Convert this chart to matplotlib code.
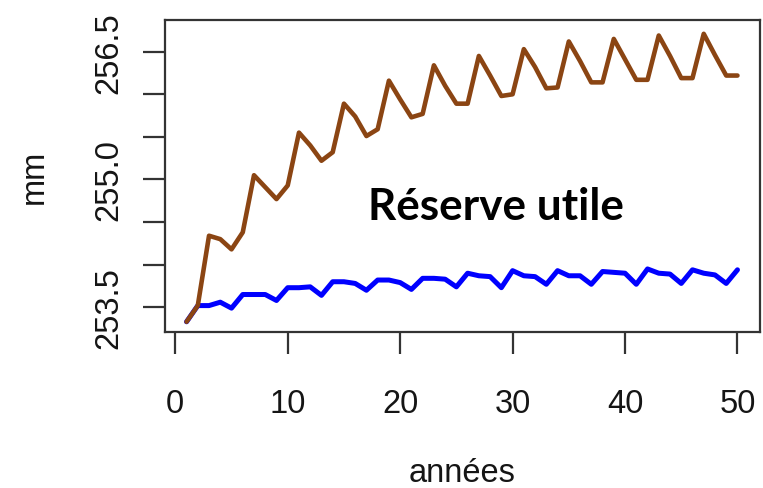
import matplotlib
matplotlib.use("Agg")
import matplotlib.pyplot as plt

# ---- data ----
annees = list(range(1, 51))
reserve_sol = [253.33, 253.52, 254.34, 254.30, 254.18, 254.38, 255.05, 254.91, 254.77, 254.93,
               255.55, 255.40, 255.22, 255.32, 255.89, 255.74, 255.51, 255.59, 256.16, 255.94,
               255.73, 255.77, 256.34, 256.10, 255.89, 255.89, 256.45, 256.22, 255.98, 256.00,
               256.53, 256.32, 256.07, 256.08, 256.62, 256.39, 256.14, 256.14, 256.65, 256.41,
               256.17, 256.17, 256.69, 256.45, 256.19, 256.19, 256.71, 256.46, 256.22, 256.22]
reserve_bleu = [253.33, 253.52, 253.52, 253.56, 253.49, 253.65, 253.65, 253.65, 253.58, 253.73,
                253.73, 253.74, 253.64, 253.80, 253.80, 253.78, 253.70, 253.82, 253.82, 253.79,
                253.71, 253.84, 253.84, 253.83, 253.74, 253.90, 253.87, 253.86, 253.73, 253.93,
                253.87, 253.86, 253.77, 253.93, 253.87, 253.87, 253.77, 253.92, 253.91, 253.90,
                253.77, 253.95, 253.90, 253.89, 253.78, 253.94, 253.90, 253.88, 253.78, 253.94]
x_ticks = [0, 10, 20, 30, 40, 50]
y_ticks = [253.5, 254.0, 254.5, 255.0, 255.5, 256.0, 256.5]
y_ticklabels = ["253.5", "", "", "255.0", "", "", "256.5"]
titre = "Réserve utile"
xlab = "années"
ylab = "mm"

W, H = 763, 489
fig = plt.figure(figsize=(W / 100, H / 100), dpi=100)
L, R, T, B = 164.5, 759.5, 21, 333
ax = fig.add_axes([L / W, 1 - B / H, (R - L) / W, (B - T) / H])

txtcol = "#151515"
axcol = "#333333"
fam = ["Liberation Sans", "DejaVu Sans"]
fs = 23.5

ax.plot(annees, reserve_bleu, color="#0000ff", lw=3.6, solid_joinstyle="round",
        solid_capstyle="round", zorder=2)
ax.plot(annees, reserve_sol, color="#8b4513", lw=3.3, solid_joinstyle="round",
        solid_capstyle="round", zorder=3)

ax.set_xlim(-0.96, 51.96)
ax.set_ylim(253.21, 256.872)

ax.set_xticks(x_ticks)
ax.set_xticklabels([str(v) for v in x_ticks])
ax.set_yticks(y_ticks)
ax.set_yticklabels(y_ticklabels, rotation=90, va="center")

for lab in ax.get_xticklabels() + ax.get_yticklabels():
    lab.set_fontfamily(fam)
    lab.set_fontsize(fs)
    lab.set_color(txtcol)

ax.tick_params(axis="x", length=16, width=1.6, color=axcol, pad=24)
ax.tick_params(axis="y", length=16, width=1.6, color=axcol, pad=13)
for s in ax.spines.values():
    s.set_color(axcol)
    s.set_linewidth(1.6)

ax.set_xlabel(xlab, fontfamily=fam, fontsize=fs, color=txtcol, va="center")
ax.xaxis.set_label_coords(0.5, (B - 474) / (B - T))
ax.set_ylabel(ylab, fontfamily=fam, fontsize=fs, color=txtcol, va="center")
ax.yaxis.set_label_coords((34 - L) / (R - L), 0.5)

# annotation text, fitted to the reference width
t = fig.text(495.5 / W, 1 - 207 / H, titre, ha="center", va="center",
             fontfamily=["Lato", "DejaVu Sans"], fontweight="bold", fontsize=30, color="black")
fig.canvas.draw()
w = t.get_window_extent().width
t.set_fontsize(30 * 256 / w)

fig.savefig("out.png", dpi=100)
